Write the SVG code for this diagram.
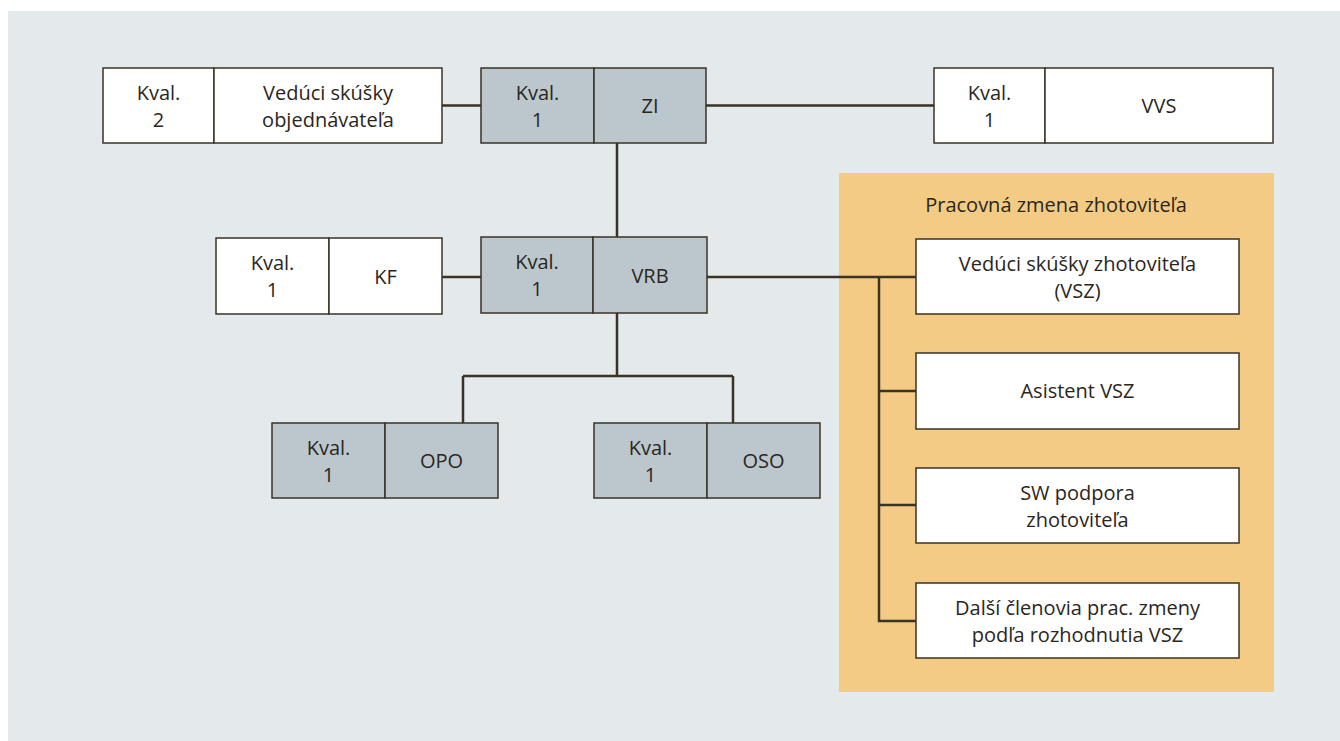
<svg xmlns="http://www.w3.org/2000/svg" width="1340" height="741" viewBox="0 0 1340 741">
<style>
text{font-family:"Open Sans","Noto Sans","Liberation Sans",sans-serif;font-size:20px;fill:#2a261c;text-anchor:middle}
.w{fill:#ffffff;stroke:#3a3326;stroke-width:1.5}
.g{fill:#bcc7cd;stroke:#3a3326;stroke-width:1.5}
.c{fill:none;stroke:#3a3326;stroke-width:2.5}
</style>
<rect x="8" y="11" width="1332" height="730" fill="#e4e9ec"/>
<rect x="839" y="173" width="435" height="519" fill="#f3cb84"/>
<text x="1056" y="212">Pracovná zmena zhotoviteľa</text>
<g id="connectors">
<path class="c" d="M442 105.5H481M706 105.5H934M617 143V237M442 277H481M707 277H916M879 277V621H916M879 391H916M879 505H916M617 313V376M463 376H733M463 376V423M733 376V423"/>
</g>
<g id="n-vso">
<rect class="w" x="103" y="68" width="111" height="75"/>
<rect class="w" x="214" y="68" width="228" height="75"/>
<text x="158.5" y="100">Kval.</text><text x="158.5" y="127">2</text>
<text x="328" y="100">Vedúci skúšky</text><text x="328" y="127">objednávateľa</text>
</g>
<g id="n-zi">
<rect class="g" x="481" y="68" width="113" height="75"/>
<rect class="g" x="594" y="68" width="112" height="75"/>
<text x="537.5" y="100">Kval.</text><text x="537.5" y="127">1</text>
<text x="650" y="113">ZI</text>
</g>
<g id="n-vvs">
<rect class="w" x="934" y="68" width="111" height="75"/>
<rect class="w" x="1045" y="68" width="228" height="75"/>
<text x="989.5" y="100">Kval.</text><text x="989.5" y="127">1</text>
<text x="1159" y="113">VVS</text>
</g>
<g id="n-kf">
<rect class="w" x="216" y="238" width="113" height="76"/>
<rect class="w" x="329" y="238" width="113" height="76"/>
<text x="272.5" y="270">Kval.</text><text x="272.5" y="297">1</text>
<text x="385.5" y="284">KF</text>
</g>
<g id="n-vrb">
<rect class="g" x="481" y="237" width="112" height="76"/>
<rect class="g" x="593" y="237" width="114" height="76"/>
<text x="537" y="269">Kval.</text><text x="537" y="296">1</text>
<text x="650" y="283">VRB</text>
</g>
<g id="n-opo">
<rect class="g" x="272" y="423" width="113" height="75"/>
<rect class="g" x="385" y="423" width="113" height="75"/>
<text x="328.5" y="455">Kval.</text><text x="328.5" y="482">1</text>
<text x="441.5" y="468">OPO</text>
</g>
<g id="n-oso">
<rect class="g" x="594" y="423" width="113" height="75"/>
<rect class="g" x="707" y="423" width="113" height="75"/>
<text x="650.5" y="455">Kval.</text><text x="650.5" y="482">1</text>
<text x="763.5" y="468">OSO</text>
</g>
<g id="n-vsz">
<rect class="w" x="916" y="239" width="323" height="75"/>
<text x="1077.5" y="271">Vedúci skúšky zhotoviteľa</text><text x="1077.5" y="298">(VSZ)</text>
</g>
<g id="n-asistent">
<rect class="w" x="916" y="353" width="323" height="76"/>
<text x="1077.5" y="398">Asistent VSZ</text>
</g>
<g id="n-sw">
<rect class="w" x="916" y="468" width="323" height="75"/>
<text x="1077.5" y="500">SW podpora</text><text x="1077.5" y="527">zhotoviteľa</text>
</g>
<g id="n-dalsi">
<rect class="w" x="916" y="583" width="323" height="75"/>
<text x="1077.5" y="615">Další členovia prac. zmeny</text><text x="1077.5" y="642">podľa rozhodnutia VSZ</text>
</g>
</svg>
